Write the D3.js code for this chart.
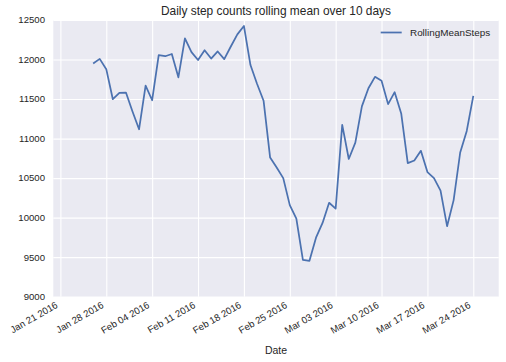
<!DOCTYPE html>
<html>
<head>
<meta charset="utf-8">
<script src="https://cdn.jsdelivr.net/npm/d3@7"></script>
<style>
  body { margin: 0; background: #fff; }
  svg text { font-family: "Liberation Sans", Arial, sans-serif; fill: #262626; }
</style>
</head>
<body>
<div id="chart"></div>
<script>
// daily rolling mean (10 days) of step counts
const dates = [
    '2016-01-26', '2016-01-27', '2016-01-28', '2016-01-29', '2016-01-30', '2016-01-31',
    '2016-02-01', '2016-02-02', '2016-02-03', '2016-02-04', '2016-02-05', '2016-02-06', '2016-02-07',
    '2016-02-08', '2016-02-09', '2016-02-10', '2016-02-11', '2016-02-12', '2016-02-13', '2016-02-14',
    '2016-02-15', '2016-02-16', '2016-02-17', '2016-02-18', '2016-02-19', '2016-02-20', '2016-02-21',
    '2016-02-22', '2016-02-23', '2016-02-24', '2016-02-25', '2016-02-26', '2016-02-27', '2016-02-28',
    '2016-02-29', '2016-03-01', '2016-03-02', '2016-03-03', '2016-03-04', '2016-03-05', '2016-03-06',
    '2016-03-07', '2016-03-08', '2016-03-09', '2016-03-10', '2016-03-11', '2016-03-12', '2016-03-13',
    '2016-03-14', '2016-03-15', '2016-03-16', '2016-03-17', '2016-03-18', '2016-03-19', '2016-03-20',
    '2016-03-21', '2016-03-22', '2016-03-23', '2016-03-24'
];
const rollingMeanSteps = [
    11950, 12008, 11878, 11498, 11578, 11582,
    11342, 11118, 11671, 11485, 12055, 12042, 12070,
    11775, 12268, 12094, 11994, 12117, 12012, 12102,
    12006, 12165, 12318, 12425, 11930, 11693, 11479,
    10760, 10634, 10500, 10158, 9987, 9466, 9454,
    9746, 9933, 10188, 10115, 11174, 10742, 10949,
    11407, 11636, 11781, 11731, 11436, 11587, 11318,
    10689, 10723, 10845, 10576, 10500, 10342, 9892,
    10222, 10824, 11097, 11541
];
const xTicks = ['2016-01-21', '2016-01-28', '2016-02-04', '2016-02-11', '2016-02-18',
    '2016-02-25', '2016-03-03', '2016-03-10', '2016-03-17', '2016-03-24'];
const yTicks = [9000, 9500, 10000, 10500, 11000, 11500, 12000, 12500];
const seriesName = 'RollingMeanSteps';
const title = 'Daily step counts rolling mean over 10 days';
const xLabel = 'Date';

const parse = d3.utcParse('%Y-%m-%d');
const data = dates.map((d, i) => ({date: parse(d), value: rollingMeanSteps[i]}));

const width = 506, height = 362;
const plot = {left: 53.3, right: 498.7, top: 20, bottom: 296.7};

const svg = d3.select('#chart').append('svg')
    .attr('width', width)
    .attr('height', height);

// x limits (slightly wider than the data)
const x = d3.scaleUtc()
    .domain([new Date(Date.UTC(2016, 0, 19, 22)), new Date(Date.UTC(2016, 2, 27, 21))])
    .range([plot.left, plot.right]);
const y = d3.scaleLinear()
    .domain([9000, 12500])
    .range([plot.bottom, plot.top]);

// background
svg.append('rect')
    .attr('x', plot.left)
    .attr('y', plot.top)
    .attr('width', plot.right - plot.left)
    .attr('height', plot.bottom - plot.top)
    .attr('fill', '#eaeaf2');

// grid
const xTickDates = xTicks.map(parse);
svg.append('g')
    .attr('transform', `translate(0,${plot.bottom})`)
    .call(d3.axisBottom(x).tickValues(xTickDates).tickSize(-(plot.bottom - plot.top)).tickFormat(''))
    .call(g => g.select('.domain').remove())
    .call(g => g.selectAll('line').attr('stroke', '#fff').attr('stroke-width', 1.1));
svg.append('g')
    .attr('transform', `translate(${plot.left},0)`)
    .call(d3.axisLeft(y).tickValues(yTicks).tickSize(-(plot.right - plot.left)).tickFormat(''))
    .call(g => g.select('.domain').remove())
    .call(g => g.selectAll('line').attr('stroke', '#fff').attr('stroke-width', 1.1));

// tick labels
const fmt = d3.utcFormat('%b %d %Y');
svg.append('g').selectAll('text')
    .data(xTickDates)
    .join('text')
    .attr('transform', d => `translate(${x(d) - 2},307) rotate(-30)`)
    .attr('text-anchor', 'end')
    .style('font-size', '9.6px')
    .text(d => fmt(d));
svg.append('g').selectAll('text')
    .data(yTicks)
    .join('text')
    .attr('x', 45)
    .attr('y', d => y(d))
    .attr('dy', '0.35em')
    .attr('text-anchor', 'end')
    .style('font-size', '9.6px')
    .text(d => d);

// line
const line = d3.line()
    .x(d => x(d.date))
    .y(d => y(d.value));
svg.append('path')
    .datum(data)
    .attr('d', line)
    .attr('fill', 'none')
    .attr('stroke', '#4c72b0')
    .attr('stroke-width', 1.75)
    .attr('stroke-linejoin', 'round');

// title and axis label
svg.append('text')
    .attr('x', (plot.left + plot.right) / 2)
    .attr('y', 15)
    .attr('text-anchor', 'middle')
    .style('font-size', '11.9px')
    .text(title);
svg.append('text')
    .attr('x', (plot.left + plot.right) / 2)
    .attr('y', 354)
    .attr('text-anchor', 'middle')
    .style('font-size', '10.5px')
    .text(xLabel);

// legend, no frame
const legend = svg.append('g');
legend.append('line')
    .attr('x1', 380.7).attr('x2', 401.7)
    .attr('y1', 32.5).attr('y2', 32.5)
    .attr('stroke', '#4c72b0')
    .attr('stroke-width', 1.75);
legend.append('text')
    .attr('x', 410)
    .attr('y', 32.5)
    .attr('dy', '0.35em')
    .style('font-size', '9.9px')
    .text(seriesName);
</script>
</body>
</html>
